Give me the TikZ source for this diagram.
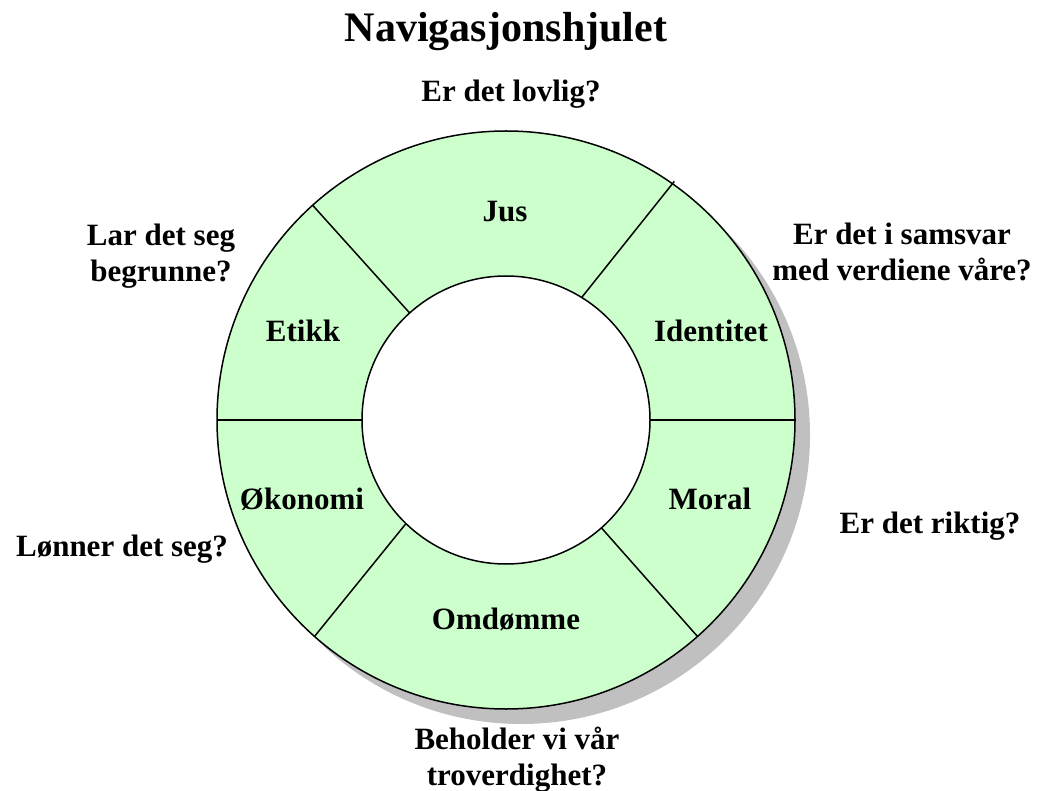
\documentclass[tikz,border=0pt]{standalone}
\usepackage{fontspec}
\setmainfont{Liberation Serif}
\usetikzlibrary{positioning}

\definecolor{wheelgreen}{HTML}{CCFFCC}
\definecolor{shadowgray}{HTML}{C0C0C0}

\begin{document}
\begin{tikzpicture}[
    x=1pt, y=-1pt,
    every node/.style={font=\bfseries\fontsize{31}{36}\selectfont, align=center, anchor=base, inner sep=0pt},
    ring/.style={draw, line width=1.5pt, fill=wheelgreen},
    hole/.style={draw, line width=1.5pt, fill=white},
    spoke/.style={line width=1.5pt}
  ]
    \useasboundingbox (0,0) rectangle (1041,791);
    \coordinate (hub) at (506,420);

    % wheel
    \fill[shadowgray] ([shift={(15,15)}]hub) circle[radius=289];
    \draw[ring] (hub) circle[radius=289];
    \draw[hole] (hub) circle[radius=144];

    \draw[spoke] ([shift={(0:144)}]hub) -- ([shift={(0:289)}]hub);
    \draw[spoke] ([shift={(-58.3:144)}]hub) -- ([shift={(-54.8:292)}]hub);
    \draw[spoke] ([shift={(-132:144)}]hub) -- ([shift={(-132:289)}]hub);
    \draw[spoke] ([shift={(180:144)}]hub) -- ([shift={(180:289)}]hub);
    \draw[spoke] ([shift={(134:144)}]hub) -- ([shift={(131.5:289)}]hub);
    \draw[spoke] ([shift={(48.5:144)}]hub) -- ([shift={(48.5:289)}]hub);

    % title
    \node[font=\bfseries\fontsize{42}{50}\selectfont] (title) at (506,42) {Navigasjonshjulet};

    % segments
    \node (jus) at (505,222) {Jus};
    \node (etikk) at (303,342) {Etikk};
    \node (identitet) at (711,342) {Identitet};
    \node (okonomi) at (302,509) {Økonomi};
    \node (moral) at (710,509) {Moral};
    \node (omdomme) at (506,629) {Omdømme};

    % questions (base = last line)
    \node (lovlig) at (511,102) {Er det lovlig?};
    \node (begrunne) at (161,282) {Lar det seg\\begrunne?};
    \node (samsvar) at (902,281) {Er det i samsvar\\med verdiene våre?};
    \node (lonner) at (122,556) {Lønner det seg?};
    \node (riktig) at (930,533) {Er det riktig?};
    \node (troverdig) at (517,785) {Beholder vi vår\\troverdighet?};
\end{tikzpicture}
\end{document}
